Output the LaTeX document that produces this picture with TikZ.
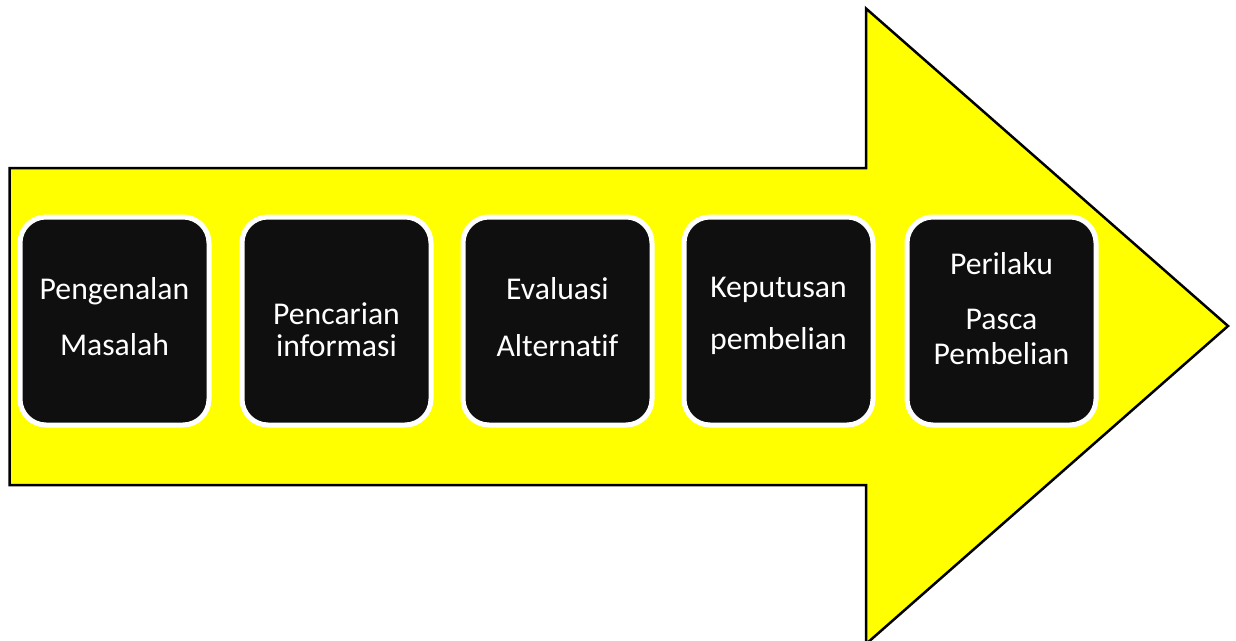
\documentclass[tikz,border=0pt]{standalone}
\usepackage{fontspec}
\setmainfont[Ligatures={NoCommon,NoContextual}]{Carlito}
\definecolor{arrowyellow}{RGB}{255,255,0}
\definecolor{boxblack}{RGB}{15,15,15}
\tikzset{
  stepbox/.style={draw=white, line width=5pt, fill=boxblack, rounded corners=26pt,
    minimum width=189pt, minimum height=208pt, inner sep=0pt, anchor=north west},
  steptext/.style={text=white, font=\fontsize{31.7}{31.7}\selectfont, anchor=base, inner sep=0pt},
  bigarrow/.style={draw=black, line width=2.5pt, fill=arrowyellow, line join=miter}
}
\begin{document}
\begin{tikzpicture}[x=1pt,y=-1pt]
\useasboundingbox (0,0) rectangle (1236,640);
\fill[white] (0,0) rectangle (1236,640);
\coordinate (a1) at (9.5,168);
\coordinate (a2) at (866,168);
\coordinate (a3) at (866,8.5);
\coordinate (a4) at (1228,326);
\coordinate (a5) at (866,644);
\coordinate (a6) at (866,485);
\coordinate (a7) at (9.5,485);
\draw[bigarrow] (a1) -- (a2) -- (a3) -- (a4) -- (a5) -- (a6) -- (a7) -- cycle;

\node[stepbox] (b1) at (17.5,214.5) {};
\node[stepbox] (b2) at (239.5,214.5) {};
\node[stepbox] (b3) at (460.5,214.5) {};
\node[stepbox] (b4) at (681.5,214.5) {};
\node[stepbox] (b5) at (904.5,214.5) {};

\node[steptext] (t11) at (b1.center |- 0,299) {Pengenalan};
\node[steptext] (t12) at (b1.center |- 0,355) {Masalah};
\node[steptext] (t21) at (b2.center |- 0,324) {Pencarian};
\node[steptext] (t22) at (b2.center |- 0,356) {informasi};
\node[steptext] (t31) at (b3.center |- 0,299) {Evaluasi};
\node[steptext] (t32) at (b3.center |- 0,356) {Alternat\kern0pt if};
\node[steptext] (t41) at (b4.center |- 0,297) {Keputusan};
\node[steptext] (t42) at (b4.center |- 0,349) {pembelian};
\node[steptext] (t51) at (b5.center |- 0,274) {Perilaku};
\node[steptext] (t52) at (b5.center |- 0,329) {Pasca};
\node[steptext] (t53) at (b5.center |- 0,364) {Pembelian};
\end{tikzpicture}
\end{document}
